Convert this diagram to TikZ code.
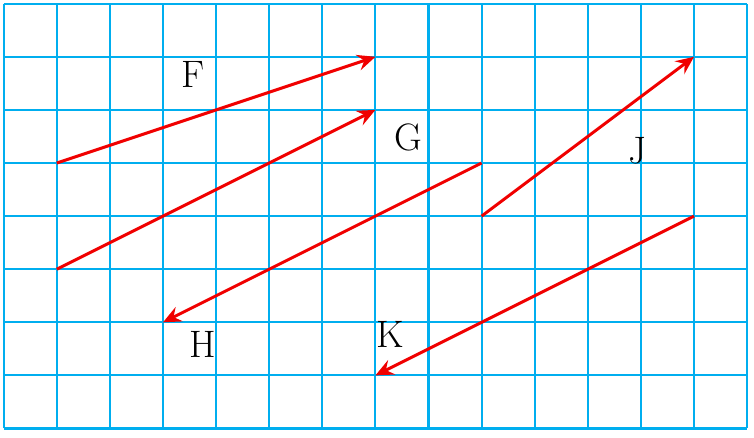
\documentclass[tikz,border=0pt]{standalone}
\usepackage{fontspec}
\usetikzlibrary{arrows.meta}
\definecolor{gridcyan}{RGB}{0,174,239}
\definecolor{arrred}{RGB}{240,0,0}
\begin{document}
\begin{tikzpicture}[
  gridline/.style={draw=gridcyan, line width=1.1pt},
  vec/.style={draw=arrred, line width=1.6pt, -{Stealth[length=3.4mm, width=3mm, inset=1.2mm]}},
  lbl/.style={font=\fontsize{20.5}{24}\selectfont, inner sep=0pt}
]
\useasboundingbox (-0.07,-0.17) rectangle (14.13,8.07);
\draw[gridline] (0,0) grid (14,8);
% points
\coordinate (f0) at (1,5); \coordinate (f1) at (7,7);
\coordinate (g0) at (1,3); \coordinate (g1) at (7,6);
\coordinate (h0) at (9,5); \coordinate (h1) at (3,2);
\coordinate (j0) at (9,4); \coordinate (j1) at (13,7);
\coordinate (k0) at (13,4); \coordinate (k1) at (7,1);
\draw[vec] (f0) -- (f1);
\draw[vec] (g0) -- (g1);
\draw[vec] (h0) -- (h1);
\draw[vec] (j0) -- (j1);
\draw[vec] (k0) -- (k1);
\node[lbl] (F) at (3.57,6.66) {F};
\node[lbl] (G) at (7.62,5.49) {G};
\node[lbl] (H) at (3.75,1.58) {H};
\node[lbl] (J) at (11.94,5.23) {J};
\node[lbl] (K) at (7.28,1.77) {K};
\end{tikzpicture}
\end{document}
